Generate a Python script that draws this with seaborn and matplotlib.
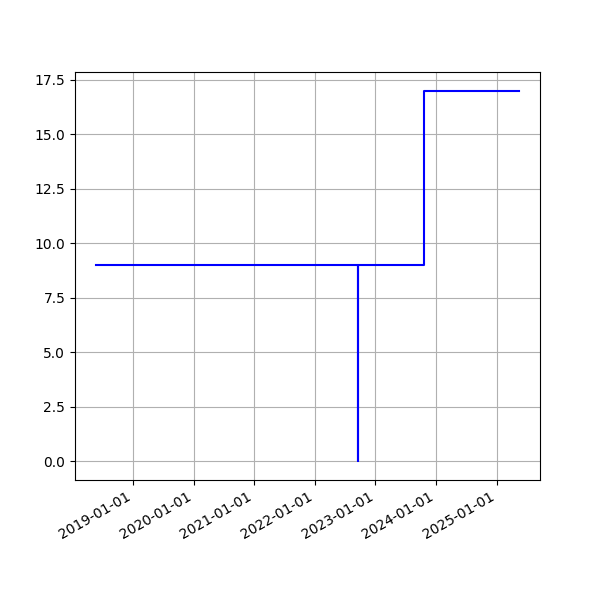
import pandas as pd
import matplotlib
matplotlib.use("Agg")
import matplotlib.pyplot as plt
import matplotlib.dates as mdates
import seaborn as sns

# ---------------- Data ----------------

dates = pd.to_datetime([
    "2018-05-24",
    "2022-09-20",
    "2022-09-20",
    "2023-10-19",
    "2025-05-14",
])
values = [9, 0, 9, 17, 17]

# ---------------- Plot ----------------

fig, ax = plt.subplots(figsize=(6, 6), dpi=100)

sns.lineplot(
    x=dates,
    y=values,
    estimator=None,
    sort=False,
    drawstyle="steps-post",
    color="blue",
    ax=ax
)

ax.xaxis.set_major_locator(mdates.YearLocator())
ax.xaxis.set_major_formatter(mdates.DateFormatter("%Y-%m-%d"))
ax.grid(True)
ax.set_xlabel("")
ax.set_ylabel("")

fig.autofmt_xdate()
plt.savefig("out.png")
